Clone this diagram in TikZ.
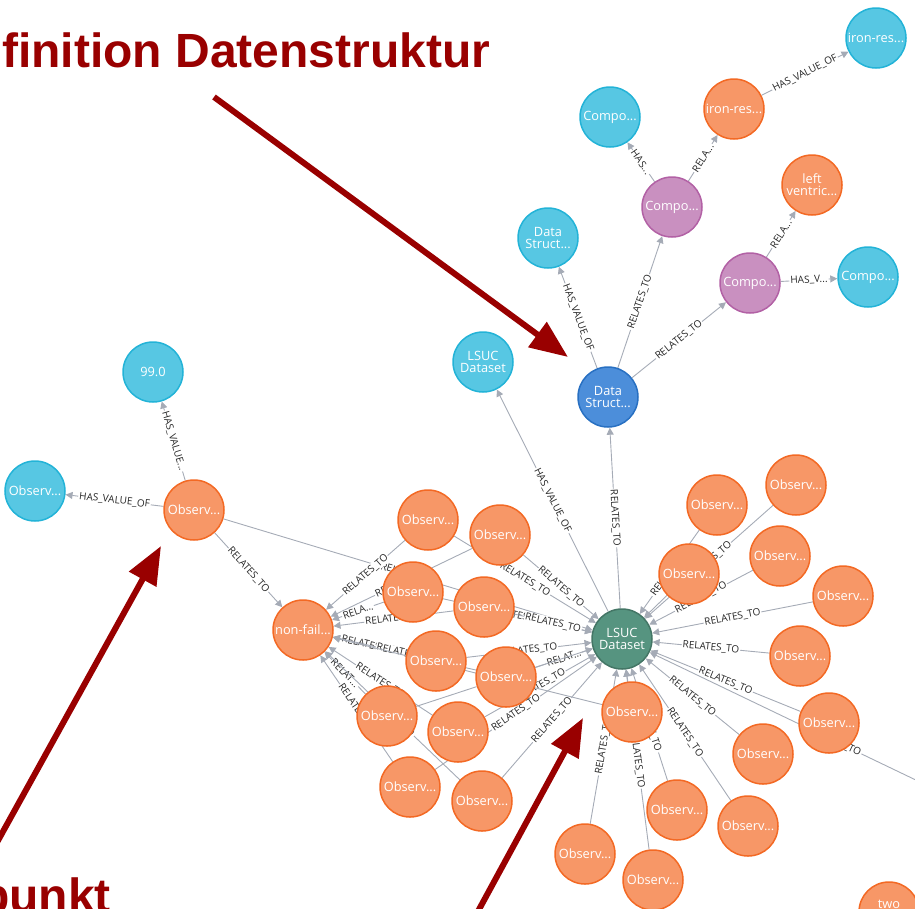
\documentclass[tikz,border=0pt]{standalone}
\usepackage{fontspec}
\setmainfont{Open Sans}
\newfontfamily\notefont{Liberation Sans}
\usetikzlibrary{arrows.meta, backgrounds}

\definecolor{nodeOrange}{HTML}{F79767}
\definecolor{nodeOrangeLine}{HTML}{F36924}
\definecolor{nodeCyan}{HTML}{57C7E3}
\definecolor{nodeCyanLine}{HTML}{23B3D7}
\definecolor{nodePurple}{HTML}{C990C0}
\definecolor{nodePurpleLine}{HTML}{B261A5}
\definecolor{nodeBlue}{HTML}{4C8EDA}
\definecolor{nodeBlueLine}{HTML}{2870C2}
\definecolor{nodeGreen}{HTML}{569480}
\definecolor{nodeGreenLine}{HTML}{447666}
\definecolor{edgeGray}{HTML}{A5ABB6}
\definecolor{noteRed}{HTML}{990000}

\newcommand\trunc[1]{#1...}

\begin{document}
\begin{tikzpicture}[x=1pt, y=-1pt,
  gnode/.style={circle, minimum size=60pt, inner sep=0pt, line width=1.5pt,
                align=center, text=white, font=\fontsize{12.8}{12}\selectfont},
  obs/.style={gnode, draw=nodeOrangeLine, fill=nodeOrange},
  val/.style={gnode, draw=nodeCyanLine, fill=nodeCyan},
  comp/.style={gnode, draw=nodePurpleLine, fill=nodePurple},
  dstruct/.style={gnode, draw=nodeBlueLine, fill=nodeBlue},
  dataset/.style={gnode, draw=nodeGreenLine, fill=nodeGreen},
  arr/.style={draw=edgeGray, line width=0.9pt, -{Triangle[length=7pt, width=7pt]}},
  rel/.style={sloped, fill=white, inner sep=1pt, text=black!85,
              font=\fontsize{10}{10}\selectfont},
  note/.style={text=noteRed, inner sep=0pt,
               font=\notefont\bfseries\fontsize{48}{48}\selectfont},
  pointer/.style={draw=noteRed, line width=6pt, -{Triangle[length=38pt, width=30pt]}}
]
\useasboundingbox (0,0) rectangle (915,908);
\clip (0,0) rectangle (915,908);

% data structure definition
\node[val]     (compoA)  at (610,117) {Compo...};
\node[obs]     (ironObs) at (734,109) {iron-res...};
\node[val]     (ironVal) at (876,38)  {iron-res...};
\node[comp]    (compoP)  at (672,207) {Compo...};
\node[obs]     (ventric) at (812,185) {left\\ventric...};
\node[comp]    (compoQ)  at (750,283) {Compo...};
\node[val]     (compoB)  at (868,277) {Compo...};
\node[val]     (dsVal)   at (548,238) {Data\\Struct...};
\node[dstruct] (ds)      at (608,397) {Data\\Struct...};
\node[val]     (lsucVal) at (483,362) {LSUC\\Dataset};
\node[dataset] (lsuc)    at (622,639) {LSUC\\Dataset};

% one data point
\node[val] (val99)   at (153,372) {99.0};
\node[val] (obsVal)  at (35,491)  {Observ...};
\node[obs] (obsTop)  at (194,510) {Observ...};
\node[obs] (nonfail) at (303,630) {non-fail...};

% observations round the dataset
\foreach \n/\x/\y in {l1/428/520, l2/500/535, l3/413/592, l4/484/607,
    l5/436/661, l6/506/677, l7/387/716, l8/458/732, l9/410/787,
    l10/482/801, lm/632/712}
  \node[obs] (\n) at (\x,\y) {Observ...};
\foreach \n/\x/\y in {r1/717/505, r2/796/485, r3/780/556, r4/689/574,
    r5/843/596, r6/800/656, r7/829/723, r8/763/754, r9/748/826,
    r10/677/810, r11/653/880, r12/585/854}
  \node[obs] (\n) at (\x,\y) {Observ...};
\node[obs] (two) at (889,912) {two\\sample...};
\coordinate (offRight) at (1020,830);

\begin{scope}[on background layer]
\draw[arr] (compoP)  -- node[rel]{HAS...} (compoA);
\draw[arr] (compoP)  -- node[rel]{RELA...} (ironObs);
\draw[arr] (ironObs) -- node[rel]{HAS\_VALUE\_OF} (ironVal);
\draw[arr] (compoQ)  -- node[rel]{RELA...} (ventric);
\draw[arr] (compoQ)  -- node[rel]{HAS\_V...} (compoB);
\draw[arr] (ds)      -- node[rel]{HAS\_VALUE\_OF} (dsVal);
\draw[arr] (ds)      -- node[rel]{RELATES\_TO} (compoP);
\draw[arr] (ds)      -- node[rel]{RELATES\_TO} (compoQ);
\draw[arr] (lsuc)    -- node[rel]{RELATES\_TO} (ds);
\draw[arr] (lsuc)    -- node[rel]{HAS\_VALUE\_OF} (lsucVal);
\draw[arr] (obsTop)  -- node[rel]{HAS\_VALUE...} (val99);
\draw[arr] (obsTop)  -- node[rel]{HAS\_VALUE\_OF} (obsVal);
\draw[arr] (obsTop)  -- node[rel]{RELATES\_TO} (nonfail);
\draw[arr] (obsTop)  -- node[rel]{RELATES\_TO} (lsuc);
\foreach \n/\a/\b in {l1/RELATES\_TO/RELATES\_TO, l2/RELATES\_TO/RELATES\_TO,
    l3/\trunc{RELA}/RELATES\_TO, l4/RELATES\_TO/RELATES\_TO,
    l5/RELATES\_TO/RELATES\_TO, l6/RELATES\_TO/\trunc{RELAT},
    l7/\trunc{RELAT}/RELATES\_TO, l8/RELATES\_TO/RELATES\_TO,
    l9/RELATES\_TO/RELATES\_TO, l10/RELATES\_TO/RELATES\_TO} {
  \draw[arr] (\n) -- node[rel]{\a} (nonfail);
  \draw[arr] (\n) -- node[rel]{\b} (lsuc);
}
\draw[arr] (lm) -- (nonfail);
\draw[arr] (lm) -- (lsuc);
\draw[arr] (r4) -- (lsuc);
\foreach \n in {r1, r2, r3, r5, r6, r7, r8, r9, r10, r11, r12}
  \draw[arr] (\n) -- node[rel]{RELATES\_TO} (lsuc);
\draw[arr] (offRight) -- node[rel]{RELATES\_TO} (lsuc);
\end{scope}

% annotations
\node[note, anchor=base west] (defText) at (2,67) {finition Datenstruktur};
\node[note, anchor=base east] (pointText) at (111,912) {punkt};
\coordinate (defFrom) at (214,97);
\coordinate (defTip) at (568,357);
\coordinate (pointFrom) at (-10,855);
\coordinate (pointTip) at (161,546);
\coordinate (obsFrom) at (476,915);
\coordinate (obsTip) at (583,718);
\draw[pointer] (defFrom) -- (defTip);
\draw[pointer] (pointFrom) -- (pointTip);
\draw[pointer] (obsFrom) -- (obsTip);
\end{tikzpicture}
\end{document}
